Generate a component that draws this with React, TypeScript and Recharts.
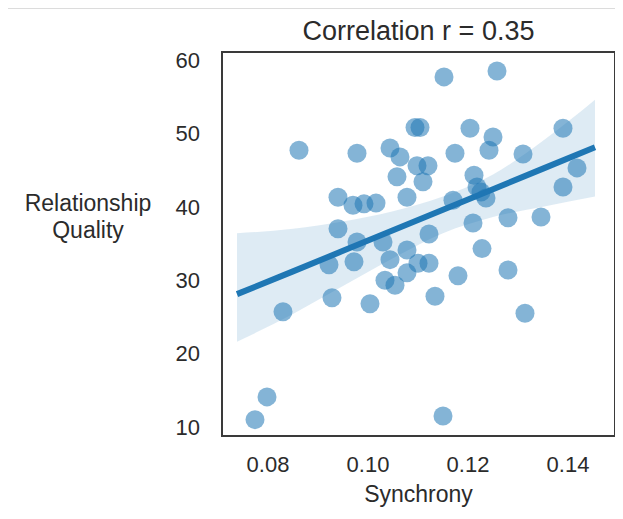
import {
  Area,
  ComposedChart,
  Line,
  ReferenceArea,
  Scatter,
  XAxis,
  YAxis,
} from "recharts";

// scatter points
const synchrony = [
  0.0862, 0.0978, 0.1044, 0.1064, 0.1058, 0.094, 0.097, 0.0992, 0.1016, 0.1078,
  0.094, 0.0978, 0.1152, 0.1258, 0.1094, 0.1104, 0.1204, 0.125, 0.139, 0.1174,
  0.1242, 0.131, 0.1098, 0.112, 0.111, 0.1212, 0.1418, 0.117, 0.1218, 0.1226,
  0.1236, 0.139, 0.1122, 0.121, 0.128, 0.1346, 0.103, 0.1078, 0.0922, 0.0972,
  0.1044, 0.1034, 0.1054, 0.1078, 0.0928, 0.1004, 0.083, 0.0798, 0.0774, 0.1122,
  0.11, 0.1228, 0.118, 0.128, 0.1134, 0.1314, 0.115,
];
const quality = [
  47.7, 47.3, 48.0, 46.8, 44.1, 41.3, 40.2, 40.4, 40.5, 41.3,
  37.0, 35.2, 57.7, 58.5, 50.8, 50.8, 50.7, 49.5, 50.7, 47.3,
  47.7, 47.2, 45.6, 45.6, 43.4, 44.3, 45.3, 40.9, 42.7, 42.0,
  41.2, 42.7, 36.3, 37.8, 38.5, 38.6, 35.2, 34.1, 32.1, 32.5,
  32.8, 30.0, 29.3, 31.0, 27.6, 26.8, 25.7, 14.1, 11.0, 32.3,
  32.3, 34.3, 30.6, 31.4, 27.8, 25.5, 11.5,
];

// regression line and its confidence band
const fitX = [0.0738, 0.085, 0.095, 0.105, 0.115, 0.125, 0.135, 0.1454];
const fitY = [28.1, 31.2, 34.0, 36.8, 39.6, 42.4, 45.2, 48.1];
const bandLo = [21.6, 25.4, 29.2, 33.0, 36.4, 38.6, 40.0, 41.4];
const bandHi = [36.4, 37.0, 38.0, 39.4, 41.4, 44.4, 49.0, 54.6];

const xTicks = [0.08, 0.1, 0.12, 0.14];
const yTicks = [10, 20, 30, 40, 50, 60];

const X_DOMAIN: [number, number] = [0.0708, 0.1494];
const Y_DOMAIN: [number, number] = [8.77, 61.09];

const points = synchrony.map((x, i) => ({ x, y: quality[i] }));
const fitRows = fitX.map((x, i) => ({ x, fit: fitY[i], band: [bandLo[i], bandHi[i]] }));

const FONT = '"Liberation Sans", Arial, sans-serif';
const INK = "#2b2b2b";
const BLUE = "#1f77b4";

const Dot = (props: any) => (
  <circle cx={props.cx} cy={props.cy} r={9.5} fill={BLUE} fillOpacity={0.55} />
);

export default function App() {
  return (
    <div style={{ position: "relative", width: 615, height: 511, fontFamily: FONT, color: INK }}>
      <div style={{ position: "absolute", left: -2, top: 0, width: 617, height: 1, background: "#dcdcdc" }} />
      <div style={{ position: "absolute", left: 214, width: 393, top: 7, textAlign: "center", fontSize: 27, lineHeight: "32px" }}>
        Correlation r = 0.35
      </div>
      <div style={{ position: "absolute", left: 0, width: 160, top: 182, textAlign: "center", fontSize: 23, lineHeight: "27px" }}>
        Relationship
        <br />
        Quality
      </div>
      <div style={{ position: "absolute", left: 214, width: 393, top: 472, textAlign: "center", fontSize: 23, lineHeight: "28px" }}>
        Synchrony
      </div>
      <ComposedChart
        width={615}
        height={511}
        data={fitRows}
        margin={{ top: 44, right: 8, bottom: 0, left: 0 }}
        style={{ position: "absolute", left: 0, top: 0 }}
      >
        <XAxis
          type="number"
          dataKey="x"
          domain={X_DOMAIN}
          ticks={xTicks}
          tickFormatter={(v: number) => v.toFixed(2)}
          allowDataOverflow
          height={83}
          axisLine={false}
          tickLine={false}
          tickSize={0}
          tickMargin={20}
          tick={{ fill: INK, fontSize: 22, fontFamily: FONT }}
        />
        <YAxis
          type="number"
          dataKey="y"
          domain={Y_DOMAIN}
          ticks={yTicks}
          allowDataOverflow
          width={214}
          axisLine={false}
          tickLine={false}
          tickSize={0}
          tickMargin={22}
          tick={{ fill: INK, fontSize: 22, fontFamily: FONT }}
        />
        <Area
          type="monotone"
          dataKey="band"
          stroke="none"
          fill={BLUE}
          fillOpacity={0.15}
          isAnimationActive={false}
        />
        <Scatter data={points} dataKey="y" shape={Dot} isAnimationActive={false} />
        <Line
          type="linear"
          dataKey="fit"
          stroke={BLUE}
          strokeWidth={6}
          dot={false}
          activeDot={false}
          isAnimationActive={false}
        />
        <ReferenceArea
          x1={X_DOMAIN[0]}
          x2={X_DOMAIN[1]}
          y1={Y_DOMAIN[0]}
          y2={Y_DOMAIN[1]}
          fill="none"
          stroke="#3a3a3a"
          strokeWidth={2}
          ifOverflow="visible"
        />
      </ComposedChart>
    </div>
  );
}
